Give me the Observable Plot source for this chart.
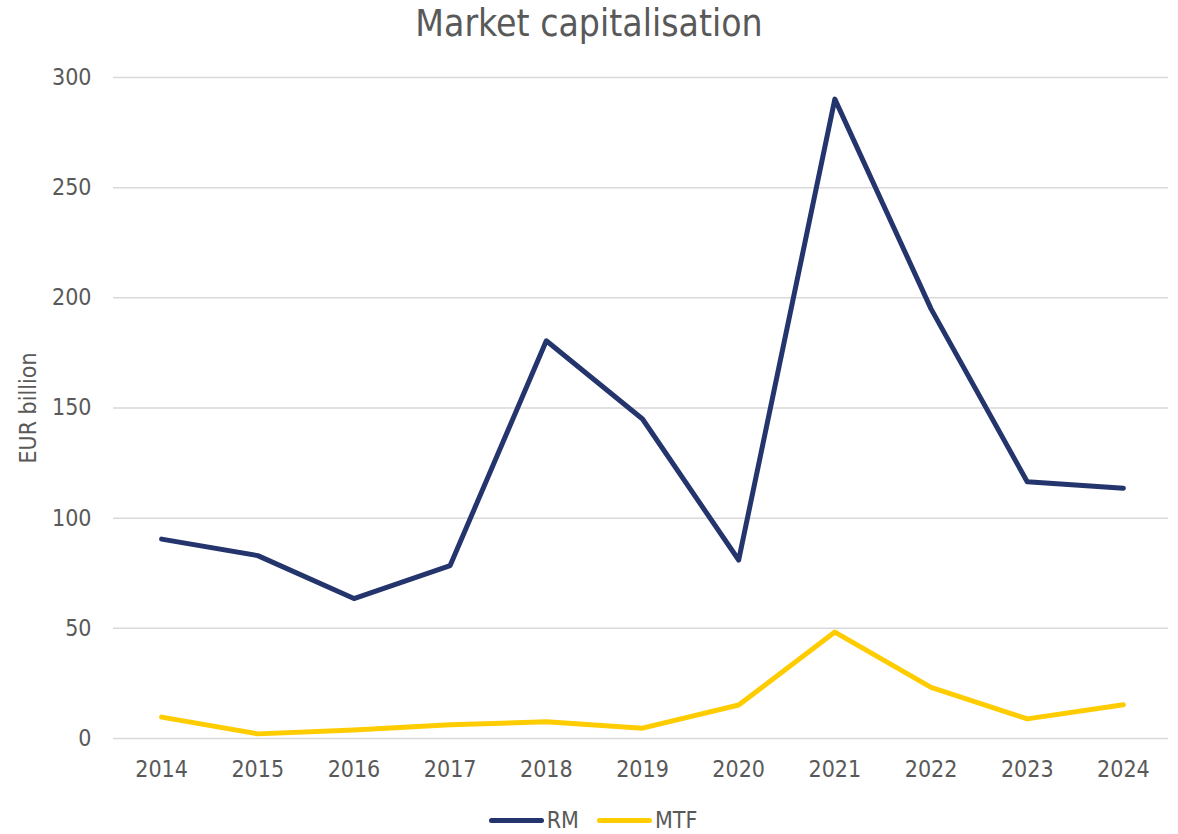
<!DOCTYPE html>
<html>
<head>
<meta charset="utf-8">
<script src="https://cdn.jsdelivr.net/npm/d3@7"></script>
<script src="https://cdn.jsdelivr.net/npm/@observablehq/plot@0.6"></script>
<style>
  html, body { margin: 0; padding: 0; background: #fff; }
  body { width: 1178px; height: 834px; overflow: hidden;
         font-family: "DejaVu Sans Condensed", "DejaVu Sans", sans-serif; font-stretch: condensed; color: #595959; }
  #title { height: 48px; line-height: 48px; font-size: 37px; text-align: center; }
  #legend { height: 28px; padding-top: 16px; display: flex; justify-content: center; align-items: center;
            font-size: 23px; margin-left: 8px; }
  .item { display: flex; align-items: center; margin: 0 9px; }
  .sw { width: 55px; height: 5px; border-radius: 3px; margin-right: 3px; }
  svg { display: block; }
</style>
</head>
<body>
<div id="title">Market capitalisation</div>
<div id="chart"></div>
<div id="legend"></div>
<script>
const years = ["2014","2015","2016","2017","2018","2019","2020","2021","2022","2023","2024"];
const rmValues  = [90.5, 83, 63.5, 78.5, 180.5, 145, 81, 290.2, 195, 116.5, 113.6];
const mtfValues = [9.7, 2.1, 3.9, 6.2, 7.6, 4.7, 15.2, 48.3, 23.2, 8.9, 15.3];
const seriesNames = ["RM", "MTF"];
const seriesColors = ["#24346C", "#FFCC00"];
const yTicks = [0, 50, 100, 150, 200, 250, 300];

const rows = [];
years.forEach((y, i) => {
  rows.push({year: y, value: rmValues[i], series: seriesNames[0]});
  rows.push({year: y, value: mtfValues[i], series: seriesNames[1]});
});

const chart = Plot.plot({
  width: 1178,
  height: 742,
  marginTop: 29,
  marginBottom: 52,
  marginLeft: 113,
  marginRight: 7,
  style: {fontFamily: '"DejaVu Sans Condensed", "DejaVu Sans", sans-serif', fontSize: "23px", color: "#595959", fontStretch: "condensed"},
  x: {type: "point", domain: years, padding: 0.5, round: false, label: null, tickSize: 0, tickPadding: 22},
  y: {domain: [0, 300], ticks: yTicks, tickSize: 0, tickPadding: 22, label: "EUR billion",
      labelAnchor: "center", labelArrow: "none", labelOffset: 94},
  color: {domain: seriesNames, range: seriesColors},
  marks: [
    Plot.ruleY(yTicks, {stroke: "#d9d9d9", strokeWidth: 1.5, insetRight: 3}),
    Plot.line(rows, {x: "year", y: "value", z: "series", stroke: "series",
      strokeWidth: 5, strokeLinejoin: "round", strokeLinecap: "round"})
  ]
});
document.getElementById("chart").appendChild(chart);

const legend = document.getElementById("legend");
seriesNames.forEach((name, i) => {
  const item = document.createElement("div");
  item.className = "item";
  const sw = document.createElement("div");
  sw.className = "sw";
  sw.style.background = seriesColors[i];
  const label = document.createElement("span");
  label.textContent = name;
  item.appendChild(sw);
  item.appendChild(label);
  legend.appendChild(item);
});
</script>
</body>
</html>
